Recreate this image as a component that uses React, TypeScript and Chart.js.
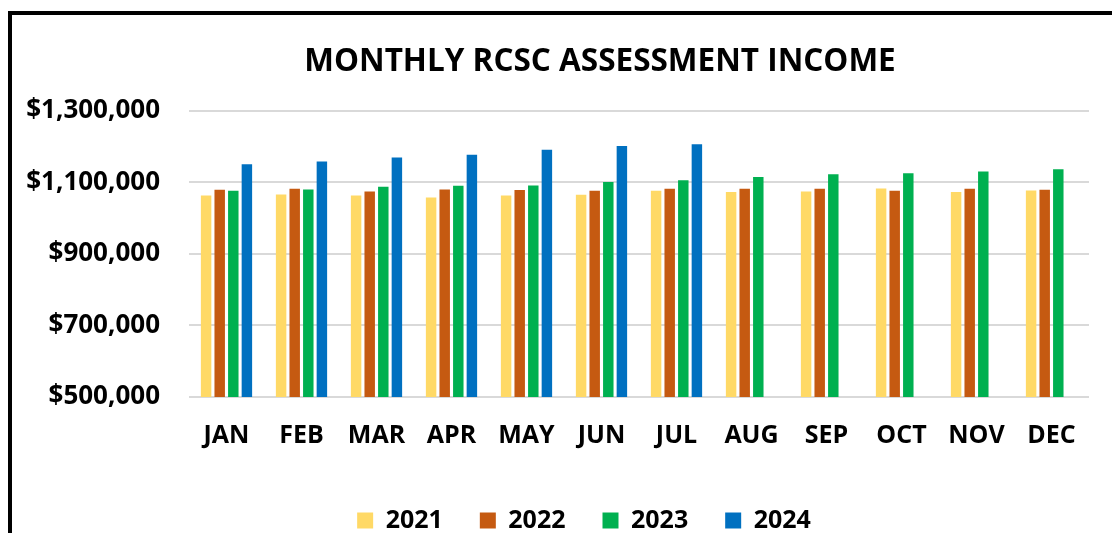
import React, { useEffect, useRef } from "react";
import { Chart, registerables } from "chart.js";

Chart.register(...registerables);

const months = ["JAN", "FEB", "MAR", "APR", "MAY", "JUN", "JUL", "AUG", "SEP", "OCT", "NOV", "DEC"];
const income2021 = [1063400, 1066200, 1063400, 1057700, 1063400, 1065300, 1076600, 1072800, 1074600, 1083100, 1072800, 1077500];
const income2022 = [1079400, 1082300, 1074600, 1080300, 1078400, 1076600, 1082300, 1082300, 1082300, 1076600, 1082300, 1079400];
const income2023 = [1076600, 1080300, 1087800, 1090600, 1091500, 1101000, 1105600, 1115000, 1122500, 1125400, 1130000, 1136600];
const income2024 = [1150700, 1158300, 1169500, 1177000, 1191100, 1201400, 1206200, null, null, null, null, null];
const yTicks = [500000, 700000, 900000, 1100000, 1300000];

const FONT = "'Open Sans', 'DejaVu Sans', sans-serif";

const legendShift = {
  id: "legendShift",
  afterLayout(chart: any) {
    const l = chart.legend;
    if (l) {
      l.left -= 16;
      l.right -= 16;
    }
  },
};

export default function App() {
  const ref = useRef<HTMLCanvasElement | null>(null);

  useEffect(() => {
    if (!ref.current) return;
    const chart = new Chart(ref.current, {
      type: "bar",
      data: {
        labels: months,
        datasets: [
          { label: "2021", data: income2021, backgroundColor: "#FFD966" },
          { label: "2022", data: income2022, backgroundColor: "#C55A11" },
          { label: "2023", data: income2023, backgroundColor: "#00B050" },
          { label: "2024", data: income2024 as any, backgroundColor: "#0070C0" },
        ],
      },
      plugins: [legendShift],
      options: {
        responsive: false,
        animation: false,
        categoryPercentage: 0.725,
        barPercentage: 0.77,
        layout: { padding: { left: 0, right: 0, top: 28, bottom: 2 } },
        plugins: {
          title: {
            display: true,
            text: "MONTHLY RCSC ASSESSMENT INCOME",
            color: "#000",
            font: { family: FONT, size: 31.5, weight: "bold" },
            padding: { top: 0, bottom: 30 },
          },
          legend: {
            position: "bottom",
            labels: {
              color: "#000",
              font: { family: FONT, size: 25, weight: "bold" },
              boxWidth: 16,
              boxHeight: 16,
              padding: 37,
            },
          },
          tooltip: { enabled: false },
        },
        scales: {
          x: {
            grid: { display: false, drawTicks: false },
            border: { display: false },
            ticks: {
              color: "#000",
              font: { family: FONT, size: 25, weight: "bold" },
              padding: 24,
            },
            afterFit: (scale: any) => {
              scale.height = 74;
            },
          },
          y: {
            min: 500000,
            max: 1300000,
            grid: { color: "#D9D9D9", lineWidth: 2, drawTicks: false },
            border: { display: false },
            afterBuildTicks: (scale: any) => {
              scale.ticks = yTicks.map((v) => ({ value: v }));
            },
            afterFit: (scale: any) => {
              scale.width = 177;
            },
            ticks: {
              color: "#000",
              font: { family: FONT, size: 26, weight: "bold" },
              padding: 29,
              callback: (v: any) => "$" + Number(v).toLocaleString("en-US"),
            },
          },
          yRightSpace: {
            position: "right",
            display: true,
            min: 0,
            max: 1,
            grid: { display: false, drawTicks: false },
            border: { display: false },
            ticks: { display: false },
            afterFit: (scale: any) => {
              scale.width = 99;
            },
          },
        },
      },
    });
    return () => chart.destroy();
  }, []);

  return (
    <div style={{ position: "fixed", left: 0, top: 0, width: 1112, height: 533, overflow: "hidden", background: "#fff" }}>
      <div
        style={{
          position: "absolute",
          left: 8,
          top: 11,
          width: 1300,
          height: 600,
          borderLeft: "4px solid #000",
          borderTop: "4px solid #000",
          background: "#fff",
        }}
      >
        <canvas ref={ref} width={1176} height={530} style={{ display: "block" }} />
      </div>
    </div>
  );
}
